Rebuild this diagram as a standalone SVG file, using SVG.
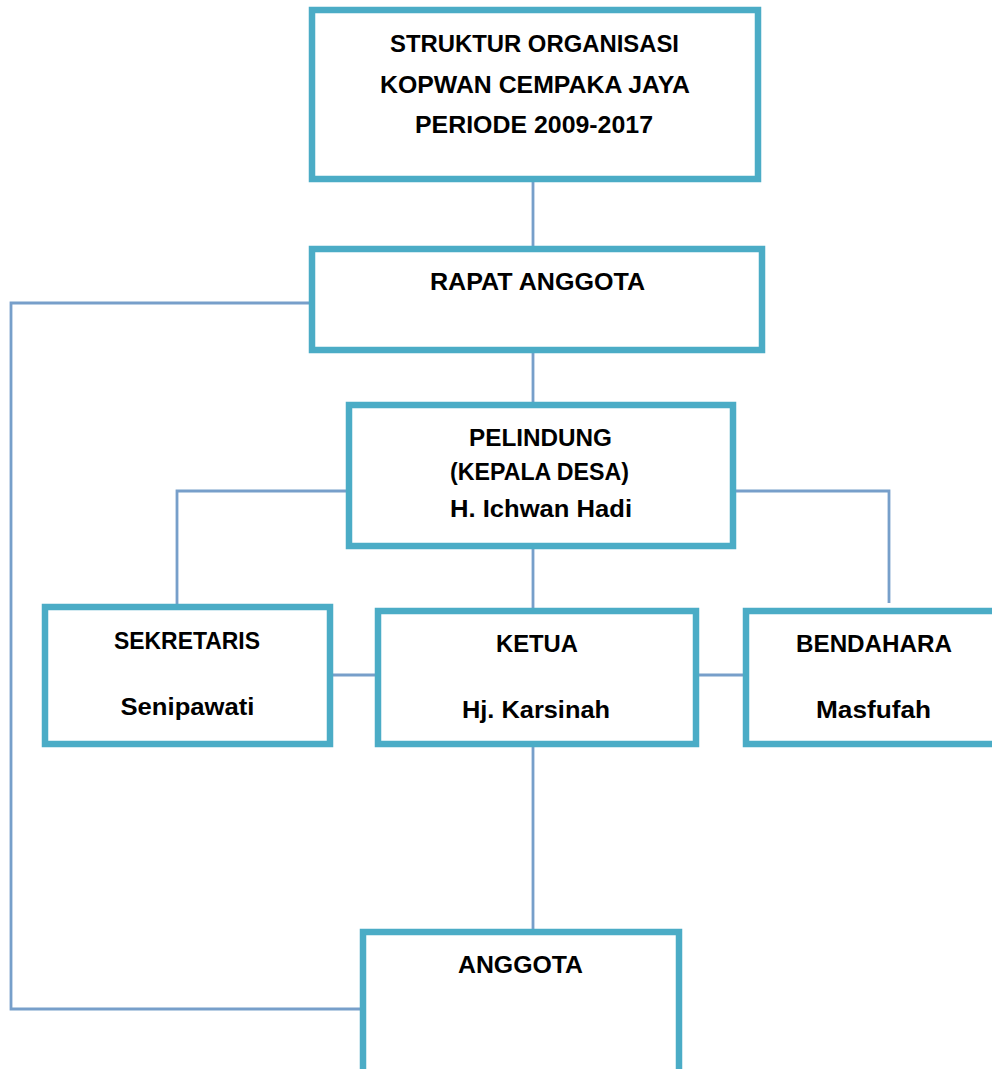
<svg xmlns="http://www.w3.org/2000/svg" width="992" height="1069" viewBox="0 0 992 1069">
<style>
.box{fill:#ffffff;stroke:#4BACC6;stroke-width:6.5}
.ln{fill:none;stroke:#779FCA;stroke-width:2.8}
.t{font-family:"Liberation Sans",Arial,sans-serif;font-weight:bold;font-size:24px;fill:#000000;text-anchor:middle}
</style>
<rect width="992" height="1069" fill="#ffffff"/>
<g id="connectors">
<path class="ln" d="M533,179 V249"/>
<path class="ln" d="M533,350 V405"/>
<path class="ln" d="M349,491 H177 V607"/>
<path class="ln" d="M733,491 H889 V603"/>
<path class="ln" d="M533,546 V611"/>
<path class="ln" d="M330,675 H378"/>
<path class="ln" d="M696,675 H746"/>
<path class="ln" d="M533,744 V932"/>
<path class="ln" d="M312,303 H11 V1009 H363"/>
</g>
<g id="title">
<rect class="box" x="312" y="10" width="446" height="169"/>
<text class="t" x="534.5" y="52" textLength="289" lengthAdjust="spacingAndGlyphs">STRUKTUR ORGANISASI</text>
<text class="t" x="535" y="93" textLength="310" lengthAdjust="spacingAndGlyphs">KOPWAN CEMPAKA JAYA</text>
<text class="t" x="534" y="133" textLength="238" lengthAdjust="spacingAndGlyphs">PERIODE 2009-2017</text>
</g>
<g id="rapat-anggota">
<rect class="box" x="312" y="249" width="450" height="101"/>
<text class="t" x="537.5" y="290" textLength="215" lengthAdjust="spacingAndGlyphs">RAPAT ANGGOTA</text>
</g>
<g id="pelindung">
<rect class="box" x="349" y="405" width="384" height="141"/>
<text class="t" x="540.5" y="446" textLength="143" lengthAdjust="spacingAndGlyphs">PELINDUNG</text>
<text class="t" x="539.5" y="480" textLength="179" lengthAdjust="spacingAndGlyphs">(KEPALA DESA)</text>
<text class="t" x="541" y="517" textLength="182" lengthAdjust="spacingAndGlyphs">H. Ichwan Hadi</text>
</g>
<g id="sekretaris">
<rect class="box" x="45" y="607" width="285" height="137"/>
<text class="t" x="187" y="649" textLength="146" lengthAdjust="spacingAndGlyphs">SEKRETARIS</text>
<text class="t" x="187.5" y="715" textLength="134" lengthAdjust="spacingAndGlyphs">Senipawati</text>
</g>
<g id="ketua">
<rect class="box" x="378" y="611" width="318" height="133"/>
<text class="t" x="537" y="652" textLength="82" lengthAdjust="spacingAndGlyphs">KETUA</text>
<text class="t" x="536" y="718" textLength="148" lengthAdjust="spacingAndGlyphs">Hj. Karsinah</text>
</g>
<g id="bendahara">
<rect class="box" x="746" y="611" width="256" height="133"/>
<text class="t" x="874" y="652" textLength="156" lengthAdjust="spacingAndGlyphs">BENDAHARA</text>
<text class="t" x="873.5" y="718" textLength="115" lengthAdjust="spacingAndGlyphs">Masfufah</text>
</g>
<g id="anggota">
<rect class="box" x="363" y="932" width="316" height="150"/>
<text class="t" x="520.5" y="973" textLength="125" lengthAdjust="spacingAndGlyphs">ANGGOTA</text>
</g>
</svg>
